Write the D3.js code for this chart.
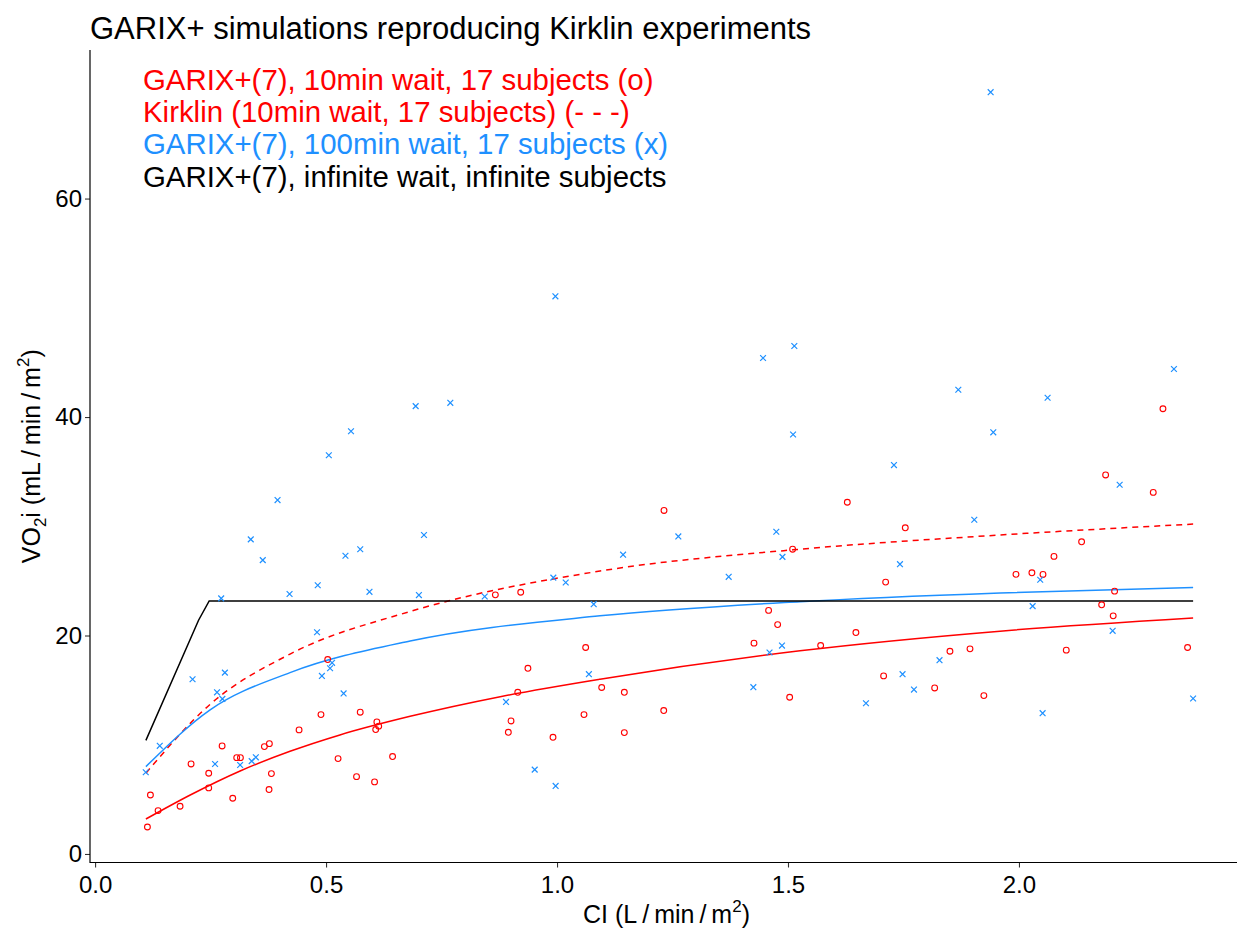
<!DOCTYPE html>
<html><head><meta charset="utf-8">
<script src="https://cdn.jsdelivr.net/npm/d3@7"></script>
<style>body{margin:0;background:#fff}svg{display:block;font-family:"Liberation Sans",Arial,sans-serif}</style>
</head><body><svg id="c" width="1239" height="928"></svg>
<script>
// ---- data ----
const titleText = "GARIX+ simulations reproducing Kirklin experiments";
const legendLabels = ["GARIX+(7), 10min wait, 17 subjects (o)", "Kirklin (10min wait, 17 subjects) (- - -)", "GARIX+(7), 100min wait, 17 subjects (x)", "GARIX+(7), infinite wait, infinite subjects"];
const xTicks = [0.0, 0.5, 1.0, 1.5, 2.0];
const yTicks = [0, 20, 40, 60];

const redX = [0.5036,0.489,0.574,0.610,0.614,0.6075,0.4416,0.275,0.3665,0.3773,0.3066,0.3146,0.2078,0.246,0.3817,0.526,0.644,0.566,0.605,0.1198,0.246,0.184,0.298,0.3766,0.1364,0.1133,
  1.2316,1.510,
  0.8665,0.9214,1.458,1.4776,1.4264,1.062,0.937,0.915,1.0967,1.1457,1.231,1.0584,1.5036,0.9004,0.8946,0.9913,1.1457,
  2.3117,2.1876,2.2907,1.6284,1.7539,2.1356,2.0758,
  1.7114,1.9935,2.028,2.052,2.207,2.179,2.204,1.5707,1.647,1.8506,1.894,2.1024,2.365,1.707,1.8175,1.924];
const redY = [17.8,12.76,12.98,12.09,11.7,11.39,11.36,9.89,9.83,10.1,8.82,8.82,8.24,7.39,7.36,8.73,8.92,7.08,6.6,5.4,6.05,4.37,5.1,5.9,3.97,2.47,
  31.45,27.9,
  23.72,23.96,22.3,21.0,19.3,18.9,17.0,14.8,15.24,14.8,13.13,12.76,14.35,12.18,11.14,10.68,11.11,
  40.76,34.7,33.1,32.2,29.86,28.58,27.24,
  24.89,25.6,25.74,25.59,24.06,22.81,21.8,19.08,20.27,18.56,18.78,18.66,18.9,16.3,15.2,14.5];

const blueX = [0.554,0.506,
  0.395,0.337,0.363,0.542,0.574,0.273,0.421,0.482,0.594,0.4805,0.211,0.281,0.264,0.2756,0.513,0.5087,0.491,0.538,0.140,0.1097,0.2597,0.314,0.339,0.348,
  0.9965,1.446,1.5137,0.694,0.769,1.511,0.712,1.2626,1.4747,1.143,1.488,
  0.701,0.8435,0.992,1.0188,1.3716,1.0794,1.487,1.460,1.069,0.8896,1.425,0.9517,0.997,
  1.8687,2.062,2.3355,1.9444,1.7294,1.9033,2.218,
  1.7424,2.046,2.0296,2.2028,1.828,1.748,1.7727,1.6688,2.0512,2.377,
  1.9387];
const blueY = [38.7,36.5,
  32.4,28.8,26.9,27.3,27.9,23.4,23.8,24.6,24.0,20.3,16.0,16.6,14.8,14.2,17.5,17.0,16.3,14.7,9.9,7.48,8.24,8.15,8.5,8.85,
  51.05,45.4,46.5,41.0,41.3,38.4,29.2,29.07,29.5,27.4,27.2,
  23.7,23.57,25.3,24.85,25.37,22.87,19.08,18.44,16.46,13.92,15.27,7.72,6.23,
  42.5,41.77,44.4,38.6,35.6,30.6,33.8,
  26.53,25.1,22.69,20.43,17.74,16.46,15.05,13.8,12.89,14.23,
  69.74];

// curves
const redCurveX  = [0.11, 0.206, 0.314, 0.422, 0.530, 0.682, 0.877, 1.093, 1.526, 1.959, 2.377];
const redCurveY  = [3.2, 5.4, 7.6, 9.4, 10.9, 12.6, 14.4, 16.0, 18.6, 20.4, 21.6];
const kirkCurveX = [0.11, 0.249, 0.422, 0.682, 1.093, 1.526, 1.959, 2.377];
const kirkCurveY = [7.4, 13.7, 18.3, 22.2, 25.9, 27.9, 29.2, 30.2];
const blueCurveX = [0.11, 0.249, 0.422, 0.682, 1.093, 1.526, 1.959, 2.377];
const blueCurveY = [8.0, 13.2, 16.6, 19.5, 21.8, 23.1, 23.9, 24.4];
const blackLineX = [0.11, 0.224, 0.247, 2.377];
const blackLineY = [10.4, 21.4, 23.17, 23.17];

// ---- drawing ----
const RED = "#FF0000", BLUE = "#1E90FF", BLACK = "#000000";
const svg = d3.select("#c");
const L = 90, R = 1237, T = 50, B = 862.5;
const x = d3.scaleLinear().domain([-0.011, 2.472]).range([L, R]);
const y = d3.scaleLinear().domain([-0.78, 73.6]).range([B, T]);

// title
svg.append("text").attr("x", 90).attr("y", 39).attr("font-size", 31).attr("fill", "#000").text(titleText);

// axes
const xAxis = d3.axisBottom(x).tickValues(xTicks).tickFormat(d3.format(".1f")).tickSizeOuter(0).tickSize(5).tickPadding(4);
const yAxis = d3.axisLeft(y).tickValues(yTicks).tickFormat(d3.format("d")).tickSizeOuter(0).tickSize(5).tickPadding(3);
const gx = svg.append("g").attr("transform", `translate(0,${B})`).call(xAxis);
const gy = svg.append("g").attr("transform", `translate(${L},0)`).call(yAxis);
[gx, gy].forEach(g => {
  g.select(".domain").remove();
  g.selectAll(".tick line").attr("stroke", "#333").attr("stroke-width", 1.1);
  g.selectAll(".tick text").attr("font-size", 24).attr("fill", "#000").attr("font-family", "Liberation Sans, Arial, sans-serif");
});
gx.selectAll(".tick text").attr("dy", "0.9em");
svg.append("line").attr("x1", L).attr("x2", L).attr("y1", T).attr("y2", B + 0.5).attr("stroke", "#000").attr("stroke-width", 1.2);
svg.append("line").attr("x1", L).attr("x2", R).attr("y1", B).attr("y2", B).attr("stroke", "#000").attr("stroke-width", 1.2);

// axis titles
const xt = svg.append("text").attr("x", (L + R) / 2 + 3).attr("y", 923).attr("text-anchor", "middle").attr("font-size", 25).attr("fill", "#000");
xt.append("tspan").text("CI (L\u2009/\u2009min\u2009/\u2009m");
xt.append("tspan").attr("font-size", 17).attr("dy", -11).text("2");
xt.append("tspan").attr("dy", 11).text(")");

const yt = svg.append("text").attr("transform", `translate(40,${(T + B) / 2}) rotate(-90)`).attr("text-anchor", "middle").attr("font-size", 25).attr("fill", "#000");
yt.append("tspan").text("VO");
yt.append("tspan").attr("font-size", 17).attr("dy", 6).text("2");
yt.append("tspan").attr("dy", -6).text("i (mL\u2009/\u2009min\u2009/\u2009m");
yt.append("tspan").attr("font-size", 17).attr("dy", -11).text("2");
yt.append("tspan").attr("dy", 11).text(")");

// lines
const line = d3.line().x(d => x(d[0])).y(d => y(d[1])).curve(d3.curveMonotoneX);
const straight = d3.line().x(d => x(d[0])).y(d => y(d[1]));
svg.append("path").datum(d3.zip(redCurveX, redCurveY)).attr("d", line).attr("fill", "none").attr("stroke", RED).attr("stroke-width", 1.5);
svg.append("path").datum(d3.zip(kirkCurveX, kirkCurveY)).attr("d", line).attr("fill", "none").attr("stroke", RED).attr("stroke-width", 1.5).attr("stroke-dasharray", "6,5");
svg.append("path").datum(d3.zip(blueCurveX, blueCurveY)).attr("d", line).attr("fill", "none").attr("stroke", BLUE).attr("stroke-width", 1.5);
svg.append("path").datum(d3.zip(blackLineX, blackLineY)).attr("d", straight).attr("fill", "none").attr("stroke", BLACK).attr("stroke-width", 1.5);

// points
svg.append("g").selectAll("circle").data(d3.zip(redX, redY)).join("circle")
  .attr("cx", d => x(d[0])).attr("cy", d => y(d[1])).attr("r", 2.9)
  .attr("fill", "none").attr("stroke", RED).attr("stroke-width", 1.1);
const s = 2.9;
svg.append("g").selectAll("path").data(d3.zip(blueX, blueY)).join("path")
  .attr("d", d => { const cx = x(d[0]), cy = y(d[1]); return `M${cx - s},${cy - s}L${cx + s},${cy + s}M${cx - s},${cy + s}L${cx + s},${cy - s}`; })
  .attr("stroke", BLUE).attr("stroke-width", 1.2).attr("fill", "none");

// legend text
const legColors = [RED, RED, BLUE, BLACK];
const legY = [90, 122, 154, 187];
svg.append("g").selectAll("text").data(legendLabels).join("text")
  .attr("x", 143).attr("y", (d, i) => legY[i]).attr("font-size", 29.4).attr("fill", (d, i) => legColors[i]).text(d => d);
</script></body></html>
